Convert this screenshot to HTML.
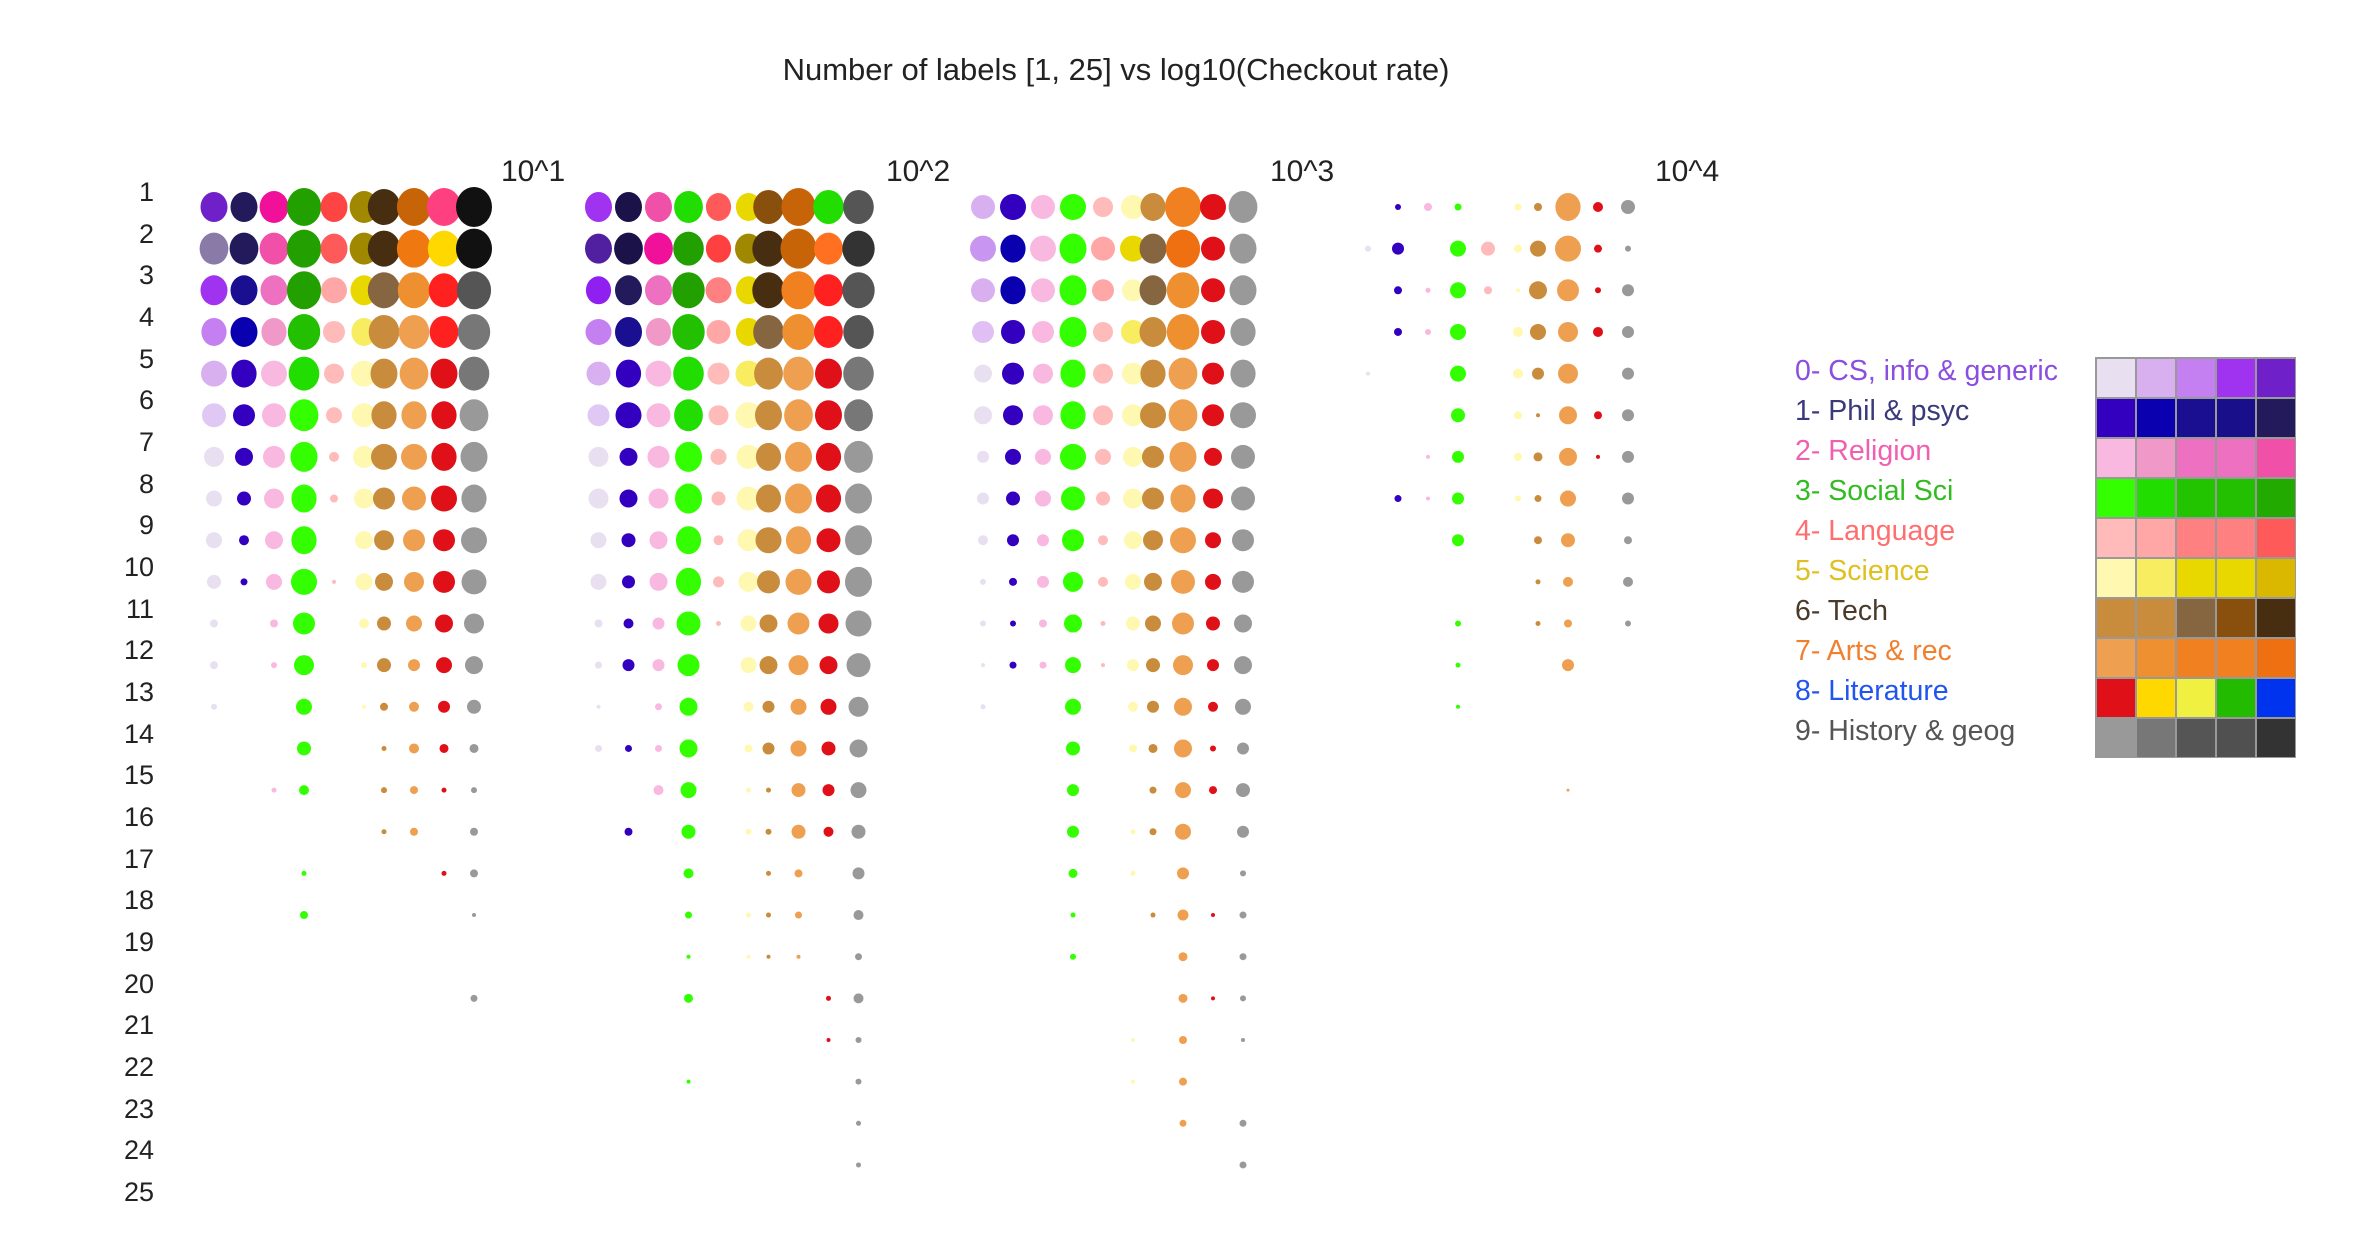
<!DOCTYPE html>
<html><head><meta charset="utf-8"><style>
html,body{margin:0;padding:0;background:#fff;}
svg{display:block;}
text{font-family:"Liberation Sans",Arial,sans-serif;}
</style></head><body>
<svg id="s" width="2370" height="1256" xmlns="http://www.w3.org/2000/svg">
<rect width="2370" height="1256" fill="#fff"/>
<text x="1116" y="80" font-size="31" text-anchor="middle" fill="#222">Number of labels [1, 25] vs log10(Checkout rate)</text>
<g font-size="30" fill="#222">
<text x="501" y="181">10^1</text>
<text x="886" y="181">10^2</text>
<text x="1270" y="181">10^3</text>
<text x="1655" y="181">10^4</text>
</g>
<g id="rl" font-size="27" fill="#222" text-anchor="end">
<text x="154" y="201">1</text><text x="154" y="243">2</text><text x="154" y="284">3</text><text x="154" y="326">4</text><text x="154" y="368">5</text><text x="154" y="409">6</text><text x="154" y="451">7</text><text x="154" y="493">8</text><text x="154" y="534">9</text><text x="154" y="576">10</text><text x="154" y="618">11</text><text x="154" y="659">12</text><text x="154" y="701">13</text><text x="154" y="743">14</text><text x="154" y="784">15</text><text x="154" y="826">16</text><text x="154" y="868">17</text><text x="154" y="909">18</text><text x="154" y="951">19</text><text x="154" y="993">20</text><text x="154" y="1034">21</text><text x="154" y="1076">22</text><text x="154" y="1118">23</text><text x="154" y="1159">24</text><text x="154" y="1201">25</text>
</g>
<g font-size="28.5">
<text x="1795" y="380" fill="#8a4fe0">0- CS, info &amp; generic</text>
<text x="1795" y="420" fill="#3a3a7a">1- Phil &amp; psyc</text>
<text x="1795" y="460" fill="#f060b0">2- Religion</text>
<text x="1795" y="500" fill="#33bb22">3- Social Sci</text>
<text x="1795" y="540" fill="#ff6f6f">4- Language</text>
<text x="1795" y="580" fill="#e0c020">5- Science</text>
<text x="1795" y="620" fill="#4a3a2a">6- Tech</text>
<text x="1795" y="660" fill="#f08030">7- Arts &amp; rec</text>
<text x="1795" y="700" fill="#2255ee">8- Literature</text>
<text x="1795" y="740" fill="#555">9- History &amp; geog</text>
</g>
<g id="leg"></g>
<g id="dots"></g>
</svg>
<script>
var NS="http://www.w3.org/2000/svg";
var sw=[["#e8dff0","#d8b0f0","#c480f0","#a033f0","#7020c8"],
["#3300c0","#0a00b0","#1a0f90","#1a0f8a","#221a5a"],
["#f8b8e0","#f098c8","#ee70c0","#ee70c0","#f050a8"],
["#33ff00","#22dd00","#22c400","#22c000","#22aa00"],
["#ffbaba","#ffa6a6","#ff8080","#ff8080","#ff5a5a"],
["#fff8b0","#f8ec60","#e8d800","#e8d800","#dab800"],
["#c88c3c","#c88c3c","#866640","#88500c","#482e10"],
["#eea050","#ee9030","#f08020","#f08020","#ee7010"],
["#e01018","#ffd800","#f0f040","#22bb00","#0033ee"],
["#999999","#777777","#555555","#505050","#333333"]];
var leg=document.getElementById("leg");
var bg=document.createElementNS(NS,"rect");
bg.setAttribute("x",2095);bg.setAttribute("y",357);bg.setAttribute("width",201);bg.setAttribute("height",401);bg.setAttribute("fill","#999");leg.appendChild(bg);
for(var r=0;r<10;r++)for(var c=0;c<5;c++){var e=document.createElementNS(NS,"rect");
e.setAttribute("x",2097+c*40);e.setAttribute("y",359+r*40);e.setAttribute("width",38);e.setAttribute("height",38);e.setAttribute("fill",sw[r][c]);leg.appendChild(e);}
var def=["#e8dff0","#3300c0","#f8b8e0","#33ff00","#ffbaba","#fff8b0","#c88c3c","#eea050","#e01018","#999999"];
var G=[
{x:214,rows:[
[30,30,32,38,30,32,36,38,38,40],
[32,32,32,38,30,32,36,38,36,40],
[30,30,30,38,26,30,36,36,34,38],
[28,30,28,36,22,28,34,34,32,36],
[26,28,26,34,20,26,30,32,30,34],
[24,22,24,32,16,24,28,28,28,32],
[20,18,22,30,10,22,26,26,28,30],
[16,14,20,28,8,20,22,24,26,28],
[16,10,18,28,0,18,20,22,22,26],
[14,7,16,26,4,17,18,20,22,25],
[8,0,8,22,0,10,14,16,18,20],
[8,0,6,20,0,6,14,12,16,18],
[6,0,0,16,0,4,8,10,12,14],
[0,0,0,14,0,0,5,10,9,9],
[0,0,5,10,0,0,6,8,5,6],
[0,0,0,0,0,0,5,8,0,8],
[0,0,0,5,0,0,0,0,5,8],
[0,0,0,8,0,0,0,0,0,4],
[0,0,0,0,0,0,0,0,0,0],
[0,0,0,0,0,0,0,0,0,7]],
col:[
["#7020c8","#221a5a","#f0109a","#22a000","#ff4444","#a08800","#482e10","#c86408","#ff4080","#111111"],
["#8a7aa8","#221a5a","#f050a8","#22a000","#ff5a5a","#a08800","#482e10","#f07810","#ffd800","#111111"],
["#a033f0","#1a0f90","#ee70c0","#22a000","#ffa6a6","#e8d800","#866640","#ee9030","#ff2020","#555555"],
["#c480f0","#0a00b0","#f098c8","#22c000","#ffbaba","#f8ec60","#c88c3c","#eea050","#ff2020","#777777"],
["#d8b0f0","#3300c0","#f8b8e0","#22dd00","#ffbaba","#fff8b0","#c88c3c","#eea050","#e01018","#777777"],
["#e0c8f4","#3300c0","#f8b8e0","#33ff00","#ffbaba","#fff8b0","#c88c3c","#eea050","#e01018","#999999"]]},
{x:598.5,rows:[
[30,30,30,32,28,28,34,38,34,34],
[30,32,32,34,28,30,36,40,32,36],
[28,30,30,36,26,28,36,38,32,36],
[26,30,28,36,24,28,34,36,32,34],
[24,28,26,34,22,26,32,34,30,34],
[22,26,24,32,20,26,30,32,30,32],
[20,18,22,30,16,24,28,30,28,32],
[20,18,20,30,14,24,28,30,28,30],
[16,14,18,28,10,22,26,28,24,30],
[16,13,18,28,11,20,23,26,23,30],
[8,10,12,24,5,16,18,22,20,26],
[7,12,12,22,0,16,18,20,18,24],
[4,0,7,18,0,10,12,16,16,20],
[7,7,7,18,0,8,12,16,14,18],
[0,0,10,16,0,5,5,14,12,16],
[0,8,0,14,0,6,6,14,10,14],
[0,0,0,10,0,0,5,8,0,12],
[0,0,0,7,0,5,5,7,0,10],
[0,0,0,4,0,4,4,4,0,7],
[0,0,0,9,0,0,0,0,5,10],
[0,0,0,0,0,0,0,0,4,6],
[0,0,0,4,0,0,0,0,0,6],
[0,0,0,0,0,0,0,0,0,5],
[0,0,0,0,0,0,0,0,0,5]],
col:[
["#a033f0","#1a1248","#f050a8","#22dd00","#ff5a5a","#e8d800","#88500c","#c86408","#22dd00","#555555"],
["#5020a0","#1a1248","#f0109a","#22a000","#ff4040","#a08800","#482e10","#c86408","#ff7020","#333333"],
["#9020f0","#221a5a","#ee70c0","#22a000","#ff8080","#e8d800","#482e10","#f08020","#ff2020","#555555"],
["#c480f0","#1a0f90","#f098c8","#22c000","#ffa6a6","#e8d800","#866640","#ee9030","#ff2020","#555555"],
["#d8b0f0","#3300c0","#f8b8e0","#22dd00","#ffbaba","#f8ec60","#c88c3c","#eea050","#e01018","#777777"],
["#e0c8f4","#3300c0","#f8b8e0","#22dd00","#ffbaba","#fff8b0","#c88c3c","#eea050","#e01018","#777777"]]},
{x:983,rows:[
[24,26,24,26,20,24,28,40,26,32],
[26,28,26,30,24,26,30,38,24,30],
[24,28,24,30,22,22,30,36,24,30],
[22,24,22,30,20,24,30,36,24,28],
[18,22,20,28,20,22,28,32,22,28],
[18,20,20,28,20,22,26,32,22,26],
[12,16,16,26,16,20,22,30,18,24],
[12,14,16,24,14,20,22,28,20,24],
[10,12,12,22,10,18,20,26,16,22],
[6,8,12,20,10,16,18,24,16,22],
[6,6,8,18,5,14,16,22,14,18],
[4,7,7,16,4,12,14,20,12,18],
[5,0,0,16,0,10,12,18,10,16],
[0,0,0,14,0,8,9,18,6,12],
[0,0,0,12,0,0,7,16,8,14],
[0,0,0,12,0,5,7,16,0,12],
[0,0,0,9,0,5,0,12,0,6],
[0,0,0,5,0,0,5,11,4,7],
[0,0,0,6,0,0,0,9,0,7],
[0,0,0,0,0,0,0,9,4,6],
[0,0,0,0,0,4,0,8,0,4],
[0,0,0,0,0,4,0,8,0,0],
[0,0,0,0,0,0,0,7,0,7],
[0,0,0,0,0,0,0,0,0,7]],
col:[
["#d8b0f0","#3300c0","#f8b8e0","#33ff00","#ffbaba","#fff8b0","#c88c3c","#f08020","#e01018","#999999"],
["#c896f0","#0a00b0","#f8b8e0","#33ff00","#ffa6a6","#e8d800","#866640","#ee7010","#e01018","#999999"],
["#d8b0f0","#0a00b0","#f8b8e0","#33ff00","#ffa6a6","#fff8b0","#866640","#ee9030","#e01018","#999999"],
["#e0c0f4","#3300c0","#f8b8e0","#33ff00","#ffbaba","#f8ec60","#c88c3c","#ee9030","#e01018","#999999"]]},
{x:1368,rows:[
[0,6,8,7,0,7,8,28,10,14],
[6,12,0,16,14,8,16,26,8,6],
[0,8,5,16,8,4,18,22,6,12],
[0,8,6,16,0,10,16,20,10,12],
[4,0,0,16,0,10,12,20,0,12],
[0,0,0,14,0,8,4,18,8,12],
[0,0,4,12,0,8,9,18,4,12],
[0,7,4,12,0,6,7,16,0,12],
[0,0,0,12,0,0,8,14,0,8],
[0,0,0,0,0,0,5,10,0,10],
[0,0,0,6,0,0,5,8,0,6],
[0,0,0,5,0,0,0,12,0,0],
[0,0,0,4,0,0,0,0,0,0],
[0,0,0,0,0,0,0,0,0,0],
[0,0,0,0,0,0,0,3,0,0]],col:[]}
];
var off=[0,30,60,90,120,150,170,200,230,260];
var d=document.getElementById("dots");
G.forEach(function(g){
 g.rows.forEach(function(row,ri){
  row.forEach(function(dm,ci){
   if(!dm)return;
   var cl=(g.col[ri]&&g.col[ri][ci])||def[ci];
   var e=document.createElementNS(NS,"ellipse");
   e.setAttribute("cx",g.x+off[ci]);e.setAttribute("cy",207+41.65*ri);
   e.setAttribute("rx",dm/2*(dm>26?0.9:1));e.setAttribute("ry",dm/2);
   e.setAttribute("fill",cl);d.appendChild(e);
  });
 });
});
</script>
</body></html>
